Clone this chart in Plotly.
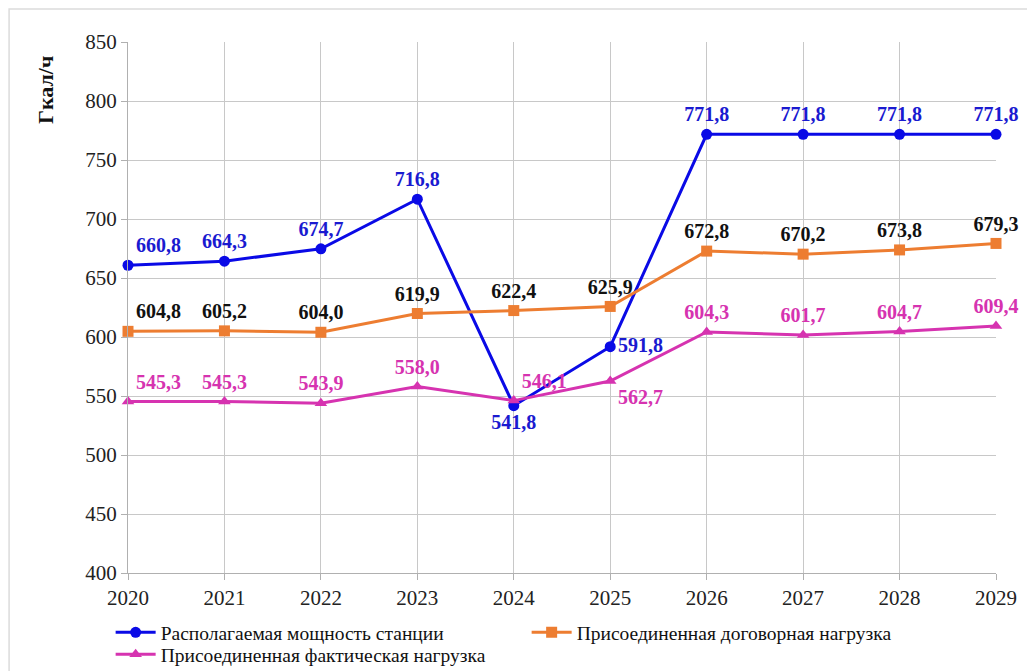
import plotly.graph_objects as go

years = [2020, 2021, 2022, 2023, 2024, 2025, 2026, 2027, 2028, 2029]
available = [660.8, 664.3, 674.7, 716.8, 541.8, 591.8, 771.8, 771.8, 771.8, 771.8]
contract = [604.8, 605.2, 604.0, 619.9, 622.4, 625.9, 672.8, 670.2, 673.8, 679.3]
actual = [545.3, 545.3, 543.9, 558.0, 546.1, 562.7, 604.3, 601.7, 604.7, 609.4]

names = ["Располагаемая мощность станции",
         "Присоединенная договорная нагрузка",
         "Присоединенная фактическая нагрузка"]


def fmt(vals):
    return [f"{v:.1f}".replace(".", ",") for v in vals]


pos_blue = ["top right", "top center", "top center", "top center", "bottom center",
            "middle right", "top center", "top center", "top center", "top center"]
pos_orange = ["top right"] + ["top center"] * 9
pos_pink = ["top right", "top center", "top center", "top center", "top right",
            "bottom right", "top center", "top center", "top center", "top center"]

lbl_font = dict(size=20, family="Liberation Serif", weight="bold")

fig = go.Figure()
fig.add_trace(go.Scatter(x=years, y=available, name=names[0], mode="lines+markers+text",
                         line=dict(color="#0a0ae6", width=3),
                         marker=dict(symbol="circle", size=11, color="#0a0ae6"),
                         text=fmt(available), textposition=pos_blue,
                         textfont=dict(color="#1a1ad0", **lbl_font),
                         cliponaxis=False))
fig.add_trace(go.Scatter(x=years, y=contract, name=names[1], mode="lines+markers+text",
                         line=dict(color="#ed7d31", width=3),
                         marker=dict(symbol="square", size=11, color="#ed7d31"),
                         text=fmt(contract), textposition=pos_orange,
                         textfont=dict(color="#111111", **lbl_font),
                         cliponaxis=False))
fig.add_trace(go.Scatter(x=years, y=actual, name=names[2], mode="lines+markers+text",
                         line=dict(color="#d633b0", width=3),
                         marker=dict(symbol="triangle-up", size=11, color="#d633b0"),
                         text=fmt(actual), textposition=pos_pink,
                         textfont=dict(color="#d633b0", **lbl_font),
                         cliponaxis=False, legend="legend2"))

leg_common = dict(orientation="h", xanchor="left", yanchor="top",
                  entrywidth=361, entrywidthmode="pixels", bgcolor="rgba(0,0,0,0)",
                  font=dict(family="Liberation Serif", size=19.5, color="#111111"),
                  itemwidth=40, tracegroupgap=0)

fig.update_layout(
    width=1027, height=663,
    margin=dict(l=120, r=39, t=34, b=98, autoexpand=False),
    paper_bgcolor="white", plot_bgcolor="white",
    font=dict(family="Liberation Serif", size=21, color="#222222"),
    showlegend=True,
    legend=dict(x=-0.02, y=-0.0756, **leg_common),
    legend2=dict(x=-0.02, y=-0.117, **leg_common),
    xaxis=dict(range=[2020, 2029], tickmode="array", tickvals=years, automargin=False,
               showgrid=True, gridcolor="#c8c8c8", gridwidth=1,
               showline=True, linecolor="#b0b0b0", ticks="outside", ticklen=6,
               tickcolor="#b0b0b0", zeroline=False,
               tickfont=dict(family="Liberation Serif", size=21, color="#222222")),
    yaxis=dict(range=[400, 850], dtick=50, showgrid=True, gridcolor="#c8c8c8", automargin=False,
               showline=True, linecolor="#b0b0b0", ticks="outside", ticklen=6,
               tickcolor="#b0b0b0", zeroline=False,
               tickfont=dict(family="Liberation Serif", size=21, color="#222222")),
    annotations=[dict(text="<b>Гкал/ч</b>", xref="paper", yref="paper", x=-0.0956, y=0.9096,
                      xanchor="center", yanchor="middle",
                      textangle=-90, showarrow=False,
                      font=dict(family="Liberation Serif", size=22, color="#111111"))],
    shapes=[dict(type="rect", xref="paper", yref="paper", x0=-0.137, x1=1.042, y0=-0.2, y1=1.062,
                 line=dict(color="#dcdcdc", width=1.5))],
)

fig.write_html("out.html")
